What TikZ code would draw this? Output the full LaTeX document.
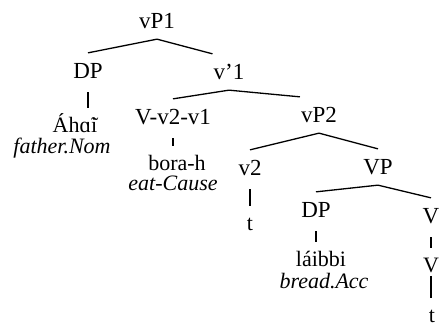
\documentclass[tikz,border=0pt]{standalone}
\usepackage{fontspec}
\setmainfont{Liberation Serif}
\usetikzlibrary{positioning}

\begin{document}
\begin{tikzpicture}[x=1pt, y=-1pt, line width=1.3pt,
  cat/.style={font=\fontsize{23}{26}\selectfont, text height=15pt, text depth=0pt, inner xsep=0.5pt, inner ysep=10pt},
  word/.style={font=\fontsize{22}{26}\selectfont, anchor=base, inner sep=0pt, text height=12pt},
  gloss/.style={font=\fontsize{22}{26}\selectfont\itshape, anchor=base, inner sep=0pt},
  bar/.style={shorten <=3pt, shorten >=11pt}]
  \useasboundingbox (0,0) rectangle (440,327);
  % categories
  \node[cat] (vP1) at (157,21) {vP1};
  \node[cat] (dp1) at (88,71) {DP};
  \node[cat] (v1) at (229,72) {v'1};
  \node[cat] (vvv) at (173,117) {V-v2-v1};
  \node[cat] (vp2) at (319,115) {vP2};
  \node[cat] (v2) at (250,168) {v2};
  \node[cat] (vp) at (378,167) {VP};
  \node[cat] (dp2) at (316,210) {DP};
  \node[cat] (vtop) at (431,216) {V};
  % words and glosses
  \node[word] (ahai) at (75,132) {Áh\~{ɑ}i};
  \node[gloss] (father) at (62,153) {father.Nom};
  \node[word] (bora) at (177,170) {bora-h};
  \node[gloss] (eat) at (173,190) {eat-Cause};
  \node[word] (t1) at (250,230) {t};
  \node[word] (laibbi) at (321,266) {láibbi};
  \node[gloss] (bread) at (324,288) {bread.Acc};
  \node[word] (vmid) at (431,272) {V};
  \node[word] (t2) at (432,322) {t};
  % branches
  \draw (vP1.south) -- (dp1.north);
  \draw (vP1.south) -- (v1.north west);
  \draw (v1.south) -- (vvv.north);
  \draw (v1.south) -- (vp2.north west);
  \draw (vp2.south) -- (v2.north);
  \draw (vp2.south) -- (vp.north);
  \draw (vp.south) -- (dp2.north);
  \draw (vp.south) -- (vtop.north);
  % bars
  \draw[bar] (dp1.south) -- (dp1.south |- ahai.north);
  \draw[bar] (vvv.south) -- (vvv.south |- bora.north);
  \draw[bar] (v2.south) -- (v2.south |- t1.north);
  \draw[bar] (dp2.south) -- (dp2.south |- laibbi.north);
  \draw[bar] (vtop.south) -- (vtop.south |- vmid.north);
  \draw[bar] (vmid.south) -- (vmid.south |- t2.north);
\end{tikzpicture}
\end{document}
